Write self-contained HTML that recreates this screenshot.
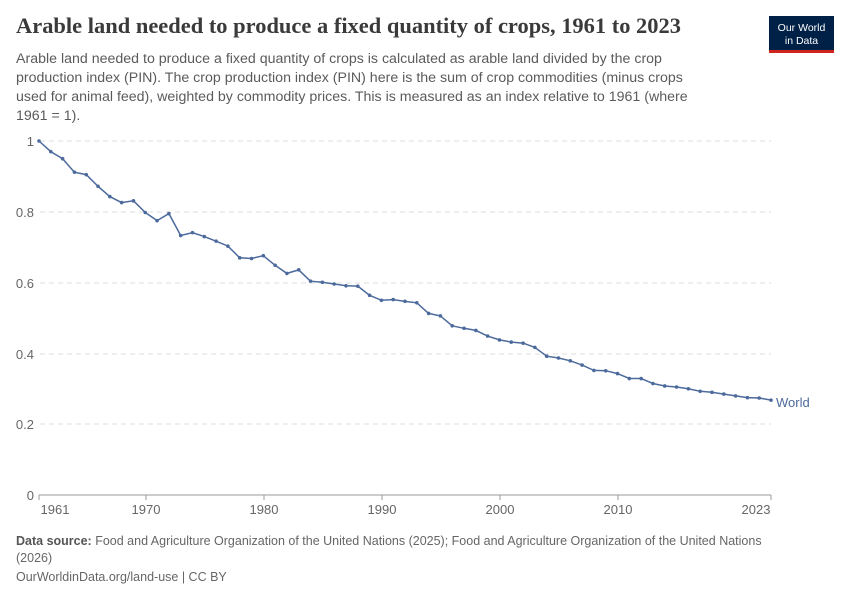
<!DOCTYPE html>
<html><head><meta charset="utf-8"><style>
body{margin:0;background:#fff;width:850px;height:600px;overflow:hidden;font-family:"Liberation Sans",sans-serif;}
</style></head><body>
<svg width="850" height="600" xmlns="http://www.w3.org/2000/svg" font-family="Liberation Sans, sans-serif">
<text x="16" y="33" font-family="Liberation Serif, serif" font-size="22" fill="#3a3a3a" font-weight="bold" textLength="665" lengthAdjust="spacingAndGlyphs">Arable land needed to produce a fixed quantity of crops, 1961 to 2023</text>
<g font-size="14.2" fill="#5b5b5b">
<text x="16" y="63">Arable land needed to produce a fixed quantity of crops is calculated as arable land divided by the crop</text>
<text x="16" y="82">production index (PIN). The crop production index (PIN) here is the sum of crop commodities (minus crops</text>
<text x="16" y="101">used for animal feed), weighted by commodity prices. This is measured as an index relative to 1961 (where</text>
<text x="16" y="120">1961 = 1).</text>
</g>
<rect x="769" y="16" width="65" height="36" fill="#002147"/>
<rect x="769" y="50" width="65" height="3" fill="#ce261e"/>
<text x="801.5" y="31" font-size="10.5" fill="#fff" text-anchor="middle">Our World</text>
<text x="801.5" y="44" font-size="10.5" fill="#fff" text-anchor="middle">in Data</text>
<g stroke="#ddd" stroke-dasharray="5,4">
<line x1="40" x2="771" y1="141" y2="141"/><line x1="40" x2="771" y1="212" y2="212"/><line x1="40" x2="771" y1="283" y2="283"/><line x1="40" x2="771" y1="354" y2="354"/><line x1="40" x2="771" y1="424" y2="424"/>
</g>
<line x1="39" x2="771" y1="495" y2="495" stroke="#999"/>
<g font-size="13" fill="#666" text-anchor="end">
<text x="34" y="146">1</text><text x="34" y="217">0.8</text><text x="34" y="288">0.6</text><text x="34" y="359">0.4</text><text x="34" y="429">0.2</text><text x="34" y="500">0</text>
</g>
<g font-size="13" fill="#666" text-anchor="middle">
<text x="55" y="514">1961</text><text x="146" y="514">1970</text><text x="264" y="514">1980</text><text x="382" y="514">1990</text><text x="500" y="514">2000</text><text x="618" y="514">2010</text><text x="756" y="514">2023</text>
</g>
<g stroke="#999"><line x1="39" x2="39" y1="495" y2="500"/><line x1="146" x2="146" y1="495" y2="500"/><line x1="264" x2="264" y1="495" y2="500"/><line x1="382" x2="382" y1="495" y2="500"/><line x1="500" x2="500" y1="495" y2="500"/><line x1="618" x2="618" y1="495" y2="500"/><line x1="771" x2="771" y1="495" y2="500"/></g>
<g id="s"></g>
<text x="776" y="407" font-size="13" fill="#4c6a9c">World</text>
<g font-size="12.5" fill="#666">
<text x="16" y="545"><tspan font-weight="bold" fill="#555">Data source:</tspan> Food and Agriculture Organization of the United Nations (2025); Food and Agriculture Organization of the United Nations</text>
<text x="16" y="562">(2026)</text>
<text x="16" y="581">OurWorldinData.org/land-use | CC BY</text>
</g>
</svg>
<script>
var v=[1,0.97,0.95,0.912,0.905,0.872,0.843,0.826,0.831,0.798,0.775,0.795,0.733,0.741,0.73,0.717,0.703,0.67,0.668,0.676,0.649,0.626,0.636,0.604,0.601,0.596,0.591,0.59,0.564,0.55,0.552,0.547,0.543,0.513,0.506,0.478,0.471,0.465,0.449,0.438,0.432,0.429,0.417,0.392,0.387,0.379,0.367,0.352,0.351,0.343,0.329,0.329,0.315,0.308,0.305,0.3,0.293,0.29,0.285,0.28,0.275,0.274,0.268];
var g=document.getElementById('s'),ns='http://www.w3.org/2000/svg',pts=[];
v.forEach(function(y,i){var X=39+i*732/62,Y=495-y*354;pts.push(X.toFixed(1)+','+Y.toFixed(1));var c=document.createElementNS(ns,'circle');c.setAttribute('cx',X);c.setAttribute('cy',Y);c.setAttribute('r',1.8);c.setAttribute('fill','#4c6a9c');g.appendChild(c);});
var p=document.createElementNS(ns,'polyline');p.setAttribute('points',pts.join(' '));p.setAttribute('fill','none');p.setAttribute('stroke','#4c6a9c');p.setAttribute('stroke-width','1.5');g.insertBefore(p,g.firstChild);
</script>
</body></html>
